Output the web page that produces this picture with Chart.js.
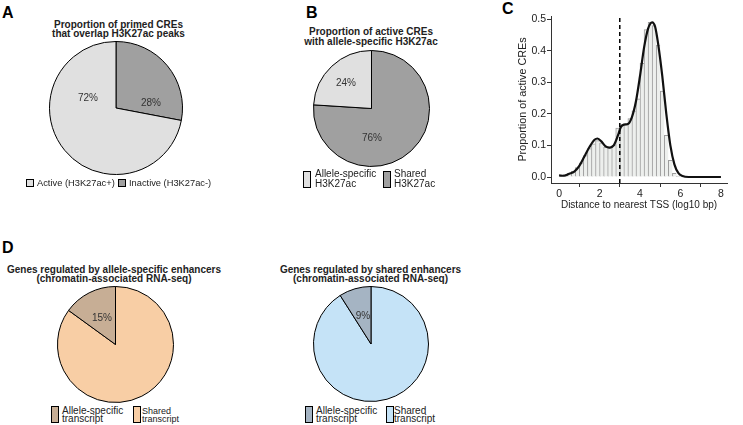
<!DOCTYPE html>
<html>
<head>
<meta charset="utf-8">
<script src="https://cdn.jsdelivr.net/npm/chart.js@4.4.1/dist/chart.umd.min.js"></script>
<style>
body { margin:0; background:#fff; width:743px; height:425px; position:relative; overflow:hidden;
       font-family:"Liberation Sans", Arial, sans-serif; color:#222; }
canvas { position:absolute; }
.letter { position:absolute; font-weight:bold; font-size:16px; line-height:16px; color:#000; }
.title { position:absolute; font-weight:bold; font-size:10px; text-align:center; white-space:nowrap; transform:translateX(-50%); }
.pct { position:absolute; font-size:10px; transform:translate(-50%,-50%); white-space:nowrap; color:#333; }
.key { position:absolute; border:1px solid #000; box-sizing:border-box; }
.lab { position:absolute; font-size:10px; white-space:nowrap; }
</style>
</head>
<body>

<div class="letter" style="left:2px;top:5px">A</div>
<div class="letter" style="left:306px;top:5px">B</div>
<div class="letter" style="left:502px;top:1px">C</div>
<div class="letter" style="left:2px;top:240px">D</div>

<div class="title" style="left:118.5px;top:19.5px;line-height:9px">Proportion of primed CREs<br>that overlap H3K27ac peaks</div>
<div class="title" style="left:371px;top:27px;line-height:10px">Proportion of active CREs<br>with allele-specific H3K27ac</div>
<div class="title" style="left:114px;top:264.5px;line-height:9px">Genes regulated by allele-specific enhancers<br>(chromatin-associated RNA-seq)</div>
<div class="title" style="left:370.5px;top:264.5px;line-height:9px">Genes regulated by shared enhancers<br>(chromatin-associated RNA-seq)</div>

<canvas id="pieA" width="134" height="134" style="left:49px;top:41px"></canvas>
<canvas id="pieB" width="117" height="117" style="left:313px;top:50px"></canvas>
<canvas id="pieD1" width="117" height="117" style="left:57px;top:286px"></canvas>
<canvas id="pieD2" width="116" height="116" style="left:313px;top:286px"></canvas>
<canvas id="histC" width="243" height="220" style="left:500px;top:0px"></canvas>

<div class="pct" style="left:88px;top:97px">72%</div>
<div class="pct" style="left:151px;top:102px">28%</div>
<div class="pct" style="left:346px;top:82px">24%</div>
<div class="pct" style="left:372px;top:137px">76%</div>
<div class="pct" style="left:102px;top:317px">15%</div>
<div class="pct" style="left:363px;top:315px">9%</div>

<!-- legend A -->
<div class="key" style="left:26px;top:179px;width:8px;height:8px;background:#e0e0e0"></div>
<div class="lab" style="left:37px;top:178px;line-height:10px;font-size:9.3px">Active (H3K27ac+)</div>
<div class="key" style="left:118px;top:179px;width:8px;height:8px;background:#a0a0a0"></div>
<div class="lab" style="left:129px;top:178px;line-height:10px;font-size:9.3px">Inactive (H3K27ac-)</div>

<!-- legend B -->
<div class="key" style="left:303px;top:171px;width:8px;height:17px;background:#e0e0e0"></div>
<div class="lab" style="left:315px;top:169px;line-height:9.5px">Allele-specific<br>H3K27ac</div>
<div class="key" style="left:383px;top:171px;width:8px;height:17px;background:#a0a0a0"></div>
<div class="lab" style="left:394px;top:169px;line-height:9.5px">Shared<br>H3K27ac</div>

<!-- legend D1 -->
<div class="key" style="left:51px;top:406px;width:8px;height:17px;background:#c7ae95"></div>
<div class="lab" style="left:62px;top:407px;line-height:8px">Allele-specific<br>transcript</div>
<div class="key" style="left:133px;top:406px;width:8px;height:17px;background:#f8cea5"></div>
<div class="lab" style="left:142px;top:407px;line-height:8px;font-size:9px">Shared<br>transcript</div>

<!-- legend D2 -->
<div class="key" style="left:305px;top:406px;width:8px;height:17px;background:#a5b4c3"></div>
<div class="lab" style="left:316px;top:407px;line-height:8px">Allele-specific<br>transcript</div>
<div class="key" style="left:386px;top:406px;width:8px;height:17px;background:#c5e3f7"></div>
<div class="lab" style="left:394px;top:407px;line-height:8px">Shared<br>transcript</div>

<script>
// pie shares, listed clockwise from 12 o'clock
var pieALabels = ['Inactive (H3K27ac-)', 'Active (H3K27ac+)'];
var pieAValues = [28, 72];
var pieBLabels = ['Shared H3K27ac', 'Allele-specific H3K27ac'];
var pieBValues = [76, 24];
var pieDLabels = ['Shared transcript', 'Allele-specific transcript'];
var pieD1Values = [85, 15];
var pieD2Values = [91, 9];

// histogram (panel C), bin centres and heights
var binCentres = [0.1, 0.3, 0.5, 0.7, 0.9, 1.1, 1.3, 1.5, 1.7, 1.9,
                  2.1, 2.3, 2.5, 2.7, 2.9, 3.1, 3.3, 3.5, 3.7, 3.9,
                  4.1, 4.3, 4.5, 4.7, 4.9, 5.1, 5.3, 5.5, 5.7, 5.9];
var binHeights = [0.005, 0.008, 0.012, 0.018, 0.03, 0.045, 0.068, 0.09, 0.105, 0.115,
                  0.108, 0.095, 0.092, 0.1, 0.155, 0.165, 0.165, 0.185, 0.21, 0.248,
                  0.36, 0.467, 0.49, 0.48, 0.418, 0.272, 0.132, 0.053, 0.012, 0.003];

// density curve
var curveX = [0, 0.25, 0.5, 0.75, 1.0, 1.25, 1.5, 1.75, 1.9, 2.1, 2.3, 2.5, 2.7, 2.9, 3.05,
              3.2, 3.4, 3.6, 3.8, 4.0, 4.2, 4.4, 4.6, 4.75, 4.9, 5.1, 5.3, 5.5, 5.7, 5.9, 6.1, 6.4, 7.0, 8.0];
var curveY = [0.005, 0.004, 0.01, 0.017, 0.035, 0.065, 0.095, 0.118, 0.122, 0.112, 0.097, 0.093, 0.1, 0.13, 0.158,
              0.166, 0.168, 0.19, 0.24, 0.32, 0.41, 0.47, 0.49, 0.475, 0.42, 0.32, 0.2, 0.1, 0.04, 0.012, 0.003, 0, 0, 0];

var cutoffX = 3;
var yTicks = [0, 0.1, 0.2, 0.3, 0.4, 0.5];
var xTicks = [0, 2, 4, 6, 8];

Chart.defaults.font.family = '"Liberation Sans", Arial, sans-serif';
Chart.defaults.color = '#222';

function pie(id, labels, values, colors) {
  return new Chart(document.getElementById(id), {
    type: 'pie',
    data: {
      labels: labels,
      datasets: [{ data: values, backgroundColor: colors, borderColor: '#000', borderWidth: 1 }]
    },
    options: {
      responsive: false,
      animation: false,
      layout: { padding: 0 },
      plugins: { legend: { display: false }, tooltip: { enabled: false } }
    }
  });
}

pie('pieA', pieALabels, pieAValues, ['#a0a0a0', '#e0e0e0']);
pie('pieB', pieBLabels, pieBValues, ['#a0a0a0', '#e0e0e0']);
pie('pieD1', pieDLabels, pieD1Values, ['#f8cea5', '#c7ae95']);
pie('pieD2', pieDLabels, pieD2Values, ['#c5e3f7', '#a5b4c3']);

var bars = binCentres.map(function (x, i) { return { x: x, y: binHeights[i] }; });
var curve = curveX.map(function (x, i) { return { x: x, y: curveY[i] }; });

new Chart(document.getElementById('histC'), {
  type: 'bar',
  data: {
    datasets: [
      { type: 'line', data: [{ x: cutoffX, y: -0.019 }, { x: cutoffX, y: 0.51 }],
        borderColor: '#000', borderWidth: 1.5, borderDash: [4, 3], pointRadius: 0, order: 0 },
      { type: 'line', data: curve, borderColor: '#111', borderWidth: 2.2, pointRadius: 0,
        cubicInterpolationMode: 'monotone', order: 1 },
      { type: 'bar', data: bars, backgroundColor: '#edefed', borderColor: '#9c9c9c',
        borderWidth: { left: 1, top: 1, right: 0, bottom: 0 }, borderSkipped: false,
        barPercentage: 1, categoryPercentage: 1, order: 2 }
    ]
  },
  options: {
    responsive: false,
    animation: false,
    layout: { padding: { top: 16, right: 16, left: 0, bottom: 0 } },
    plugins: { legend: { display: false }, tooltip: { enabled: false } },
    scales: {
      x: {
        type: 'linear', min: -0.4, max: 8.3, offset: false,
        afterBuildTicks: function (s) { s.ticks = xTicks.map(function (v) { return { value: v }; }); },
        afterFit: function (s) { s.height = 37; },
        ticks: { font: { size: 10.5 }, padding: 1, maxRotation: 0, callback: function (v) { return String(v); } },
        grid: { drawOnChartArea: false, tickLength: 4, tickColor: '#333' },
        border: { color: '#333', width: 1 },
        title: { display: true, text: 'Distance to nearest TSS (log10 bp)', font: { size: 10 }, padding: { top: 0, bottom: 9 } }
      },
      y: {
        min: -0.019, max: 0.51,
        afterBuildTicks: function (s) { s.ticks = yTicks.map(function (v) { return { value: v }; }); },
        afterFit: function (s) { s.width = 51; },
        ticks: { font: { size: 10.5 }, padding: 1, callback: function (v) { return v.toFixed(1); } },
        grid: { drawOnChartArea: false, tickLength: 4, tickColor: '#333' },
        border: { color: '#333', width: 1 },
        title: { display: true, text: 'Proportion of active CREs', font: { size: 10.8 }, padding: { top: 17, bottom: 0 } }
      }
    }
  }
});
</script>
</body>
</html>
